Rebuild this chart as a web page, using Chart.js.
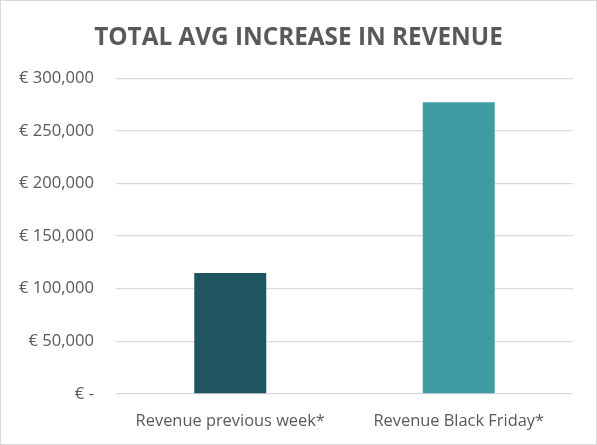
<!DOCTYPE html>
<html>
<head>
<meta charset="utf-8">
<script src="https://cdn.jsdelivr.net/npm/chart.js@4"></script>
<style>
  html, body { margin: 0; padding: 0; background: #fff; }
  #wrap { position: relative; width: 595px; height: 443px; border: 1px solid #d9d9d9; }
</style>
</head>
<body>
<div id="wrap"><canvas id="revenueChart"></canvas></div>
<script>
"use strict";

var categories = ['Revenue previous week*', 'Revenue Black Friday*'];
var revenueValues = [115000, 277000];
var barColors = ['#1f5461', '#3f9ca2'];
var yTicks = [0, 50000, 100000, 150000, 200000, 250000, 300000];

function euro(v) {
    if (v === 0) return '€ -';
    return '€ ' + v.toLocaleString('en-US');
}

var ctx = document.getElementById('revenueChart').getContext('2d');
new Chart(ctx, {
    type: 'bar',
    data: {
        labels: categories,
        datasets: [{
            data: revenueValues,
            backgroundColor: barColors,
            borderWidth: 0,
            barPercentage: 0.63,
            categoryPercentage: 0.5
        }]
    },
    options: {
        responsive: true,
        maintainAspectRatio: false,
        animation: false,
        layout: { padding: 0 },
        plugins: {
            legend: { display: false },
            tooltip: { enabled: false },
            title: {
                display: true,
                text: 'TOTAL AVG INCREASE IN REVENUE',
                color: '#595959',
                font: { family: 'Open Sans', size: 24.3, weight: 'bold' },
                padding: { top: 22, bottom: 26 }
            }
        },
        scales: {
            x: {
                grid: { display: false },
                border: { display: false },
                ticks: {
                    color: '#595959',
                    font: { family: 'Open Sans', size: 16.4 },
                    padding: 9
                },
                afterFit: function (scale) { scale.height = 50; }
            },
            y: {
                min: 0,
                max: 300000,
                afterBuildTicks: function (scale) {
                    scale.ticks = yTicks.map(function (v) { return { value: v }; });
                },
                grid: { color: '#d9d9d9', lineWidth: 1.3, drawTicks: false },
                border: { display: false },
                ticks: {
                    color: '#595959',
                    font: { family: 'Open Sans', size: 16.6 },
                    padding: 22,
                    callback: function (v) { return euro(v); }
                },
                afterFit: function (scale) { scale.width = 115; }
            },
            spacer: {
                type: 'linear',
                position: 'right',
                grid: { display: false },
                border: { display: false },
                ticks: { display: false },
                afterFit: function (scale) { scale.width = 23; }
            }
        }
    }
});
</script>
</body>
</html>
